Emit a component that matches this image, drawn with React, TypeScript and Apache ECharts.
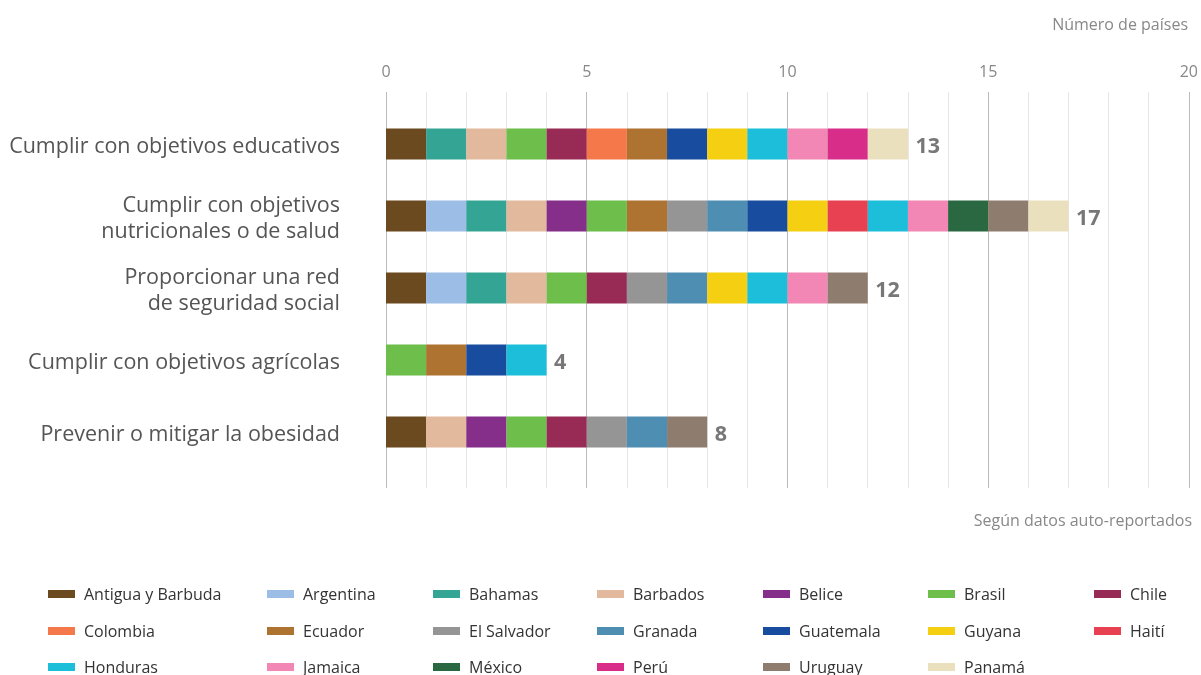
import React, { useEffect, useRef } from "react";
import * as echarts from "echarts";

const categories = [
  "Cumplir con objetivos educativos",
  "Cumplir con objetivos\nnutricionales o de salud",
  "Proporcionar una red\nde seguridad social",
  "Cumplir con objetivos agrícolas",
  "Prevenir o mitigar la obesidad",
];

const countries = [
  "Antigua y Barbuda", "Argentina", "Bahamas", "Barbados", "Belice", "Brasil", "Chile",
  "Colombia", "Ecuador", "El Salvador", "Granada", "Guatemala", "Guyana", "Haití",
  "Honduras", "Jamaica", "México", "Perú", "Uruguay", "Panamá",
];

const countryColors = [
  "#6B4A20", "#9BBDE6", "#34A594", "#E2B99C", "#862F8A", "#6DBE4A", "#982B55",
  "#F47849", "#AE7330", "#959596", "#4E8EB2", "#184C9E", "#F5D012", "#E84152",
  "#1DBED9", "#F286B4", "#2A6842", "#D82E89", "#8E7D6E", "#EAE0BE",
];

// Countries reporting each objective (one segment = one country)
const educativos = ["Antigua y Barbuda", "Bahamas", "Barbados", "Brasil", "Chile", "Colombia", "Ecuador", "Guatemala", "Guyana", "Honduras", "Jamaica", "Perú", "Panamá"];
const nutricionales = ["Antigua y Barbuda", "Argentina", "Bahamas", "Barbados", "Belice", "Brasil", "Ecuador", "El Salvador", "Granada", "Guatemala", "Guyana", "Haití", "Honduras", "Jamaica", "México", "Uruguay", "Panamá"];
const seguridadSocial = ["Antigua y Barbuda", "Argentina", "Bahamas", "Barbados", "Brasil", "Chile", "El Salvador", "Granada", "Guyana", "Honduras", "Jamaica", "Uruguay"];
const agricolas = ["Brasil", "Ecuador", "Guatemala", "Honduras"];
const obesidad = ["Antigua y Barbuda", "Barbados", "Belice", "Brasil", "Chile", "El Salvador", "Granada", "Uruguay"];

const members = [educativos, nutricionales, seguridadSocial, agricolas, obesidad];

const xTicks = [0, 5, 10, 15, 20];

// legend layout (3 rows x 7 columns)
const legendColumnsX = [48, 267, 433, 597, 763, 928, 1094];
const legendRowsY = [594, 631, 667];

export default function App() {
  const ref = useRef<HTMLDivElement>(null);
  useEffect(() => {
    if (!ref.current) return;
    const chart = echarts.init(ref.current, null, { renderer: "svg" });
    const font = "'Open Sans', 'Noto Sans', sans-serif";
    const left = 386;
    const right = 12;

    const barSeries = countries.map((c, i) => ({
      name: c,
      type: "bar",
      stack: "total",
      xAxisIndex: 1,
      yAxisIndex: 1,
      barWidth: 31,
      itemStyle: { color: countryColors[i] },
      data: members.map((m) => (m.includes(c) ? 1 : null)),
    }));

    const totals = members.map((m, i) => [m.length, i]);

    const legends = countries.map((c, i) => ({
      orient: "vertical",
      left: legendColumnsX[i % 7] - 5,
      top: legendRowsY[Math.floor(i / 7)] - 15,
      icon: "rect",
      itemWidth: 27,
      itemHeight: 8,
      selectedMode: false,
      textStyle: { fontFamily: font, fontSize: 16, color: "#333", lineHeight: 20, padding: [0, 0, 0, 4] },
      data: [c],
    }));

    chart.setOption({
      animation: false,
      textStyle: { fontFamily: font },
      title: [
        { text: "Número de países", right: 8, top: 11, textStyle: { fontFamily: font, fontSize: 16, color: "#888", fontWeight: "normal" } },
        { text: "Según datos auto-reportados", right: 4, top: 507, textStyle: { fontFamily: font, fontSize: 16, color: "#888", fontWeight: "normal" } },
      ],
      legend: legends,
      grid: [
        { left, right, top: 92, height: 396 },
        { left, right, top: 108, height: 360 },
      ],
      xAxis: [
        {
          gridIndex: 0,
          type: "value",
          position: "top",
          min: 0,
          max: 20,
          interval: 1,
          axisLine: { show: false },
          axisTick: { show: false },
          axisLabel: {
            margin: 13,
            fontSize: 16,
            color: "#888",
            fontFamily: font,
            formatter: (v: number) => (xTicks.includes(v) ? String(v) : ""),
          },
          splitLine: {
            show: true,
            lineStyle: { color: ["#bbbbbb", "#e6e6e6", "#e6e6e6", "#e6e6e6", "#e6e6e6"], width: 1 },
          },
        },
        {
          gridIndex: 1,
          type: "value",
          min: 0,
          max: 20,
          show: false,
        },
      ],
      yAxis: [
        { gridIndex: 0, type: "value", show: false },
        {
          gridIndex: 1,
          type: "category",
          inverse: true,
          data: categories,
          axisLine: { show: false },
          axisTick: { show: false },
          axisLabel: {
            margin: 46,
            fontSize: 21.5,
            lineHeight: 26,
            color: "#555",
            fontFamily: font,
            align: "right",
          },
        },
      ],
      series: [
        ...barSeries,
        {
          type: "scatter",
          xAxisIndex: 1,
          yAxisIndex: 1,
          symbolSize: 1,
          itemStyle: { color: "rgba(0,0,0,0)" },
          silent: true,
          data: totals,
          label: {
            show: true,
            position: "right",
            distance: 7,
            formatter: (p: any) => String(p.value[0]),
            fontSize: 21.5,
            fontWeight: "bold",
            color: "#555",
            fontFamily: font,
          },
        },
      ],
    });
    return () => chart.dispose();
  }, []);
  return <div ref={ref} style={{ position: "fixed", left: 0, top: 0, width: 1201, height: 675 }} />;
}
